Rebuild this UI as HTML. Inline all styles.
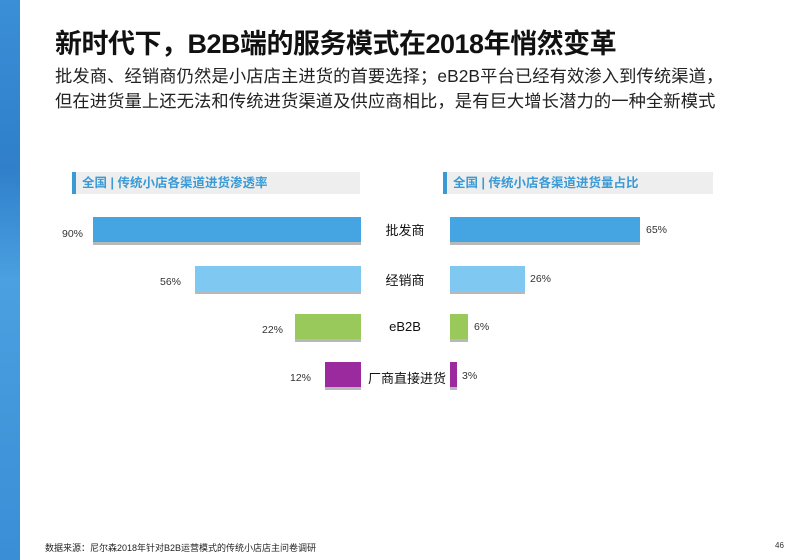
<!DOCTYPE html>
<html><head><meta charset="utf-8"><style>
body{margin:0;width:800px;height:560px;background:#fff;position:relative;overflow:hidden;font-family:"Liberation Sans","Noto Sans CJK SC",sans-serif}
.a{position:absolute}
.strip{left:0;top:0;width:20px;height:560px;background:linear-gradient(180deg,#3a8fd6 0%,#2f7fca 30%,#4aa0e0 50%,#3a8ed6 100%)}
.t{left:55px;top:22px;font-size:27px;font-weight:bold;color:#111;letter-spacing:-0.5px}
.s{left:55px;top:64px;font-size:17.3px;color:#222;line-height:25px;letter-spacing:0.1px}
.h{height:22px;background:#eeeeee;border-left:4px solid #3a9ad6;color:#3a9ad6;font-size:12.5px;font-weight:bold;line-height:22px;padding-left:6px;box-sizing:border-box}
.b{height:25px;box-shadow:0 3px 0 #b8b8b8}
.v{font-size:10.5px;color:#333}
.l{font-size:13px;color:#111;width:90px;text-align:center;left:360px}
</style></head><body>
<div class="a strip"></div>
<div class="a t">新时代下，B2B端的服务模式在2018年悄然变革</div>
<div class="a s">批发商、经销商仍然是小店店主进货的首要选择；eB2B平台已经有效渗入到传统渠道，<br>但在进货量上还无法和传统进货渠道及供应商相比，是有巨大增长潜力的一种全新模式</div>
<div class="a h" style="left:72px;top:172px;width:288px">全国 | 传统小店各渠道进货渗透率</div>
<div class="a h" style="left:443px;top:172px;width:270px">全国 | 传统小店各渠道进货量占比</div>

<div class="a b" style="left:93px;top:217px;width:268px;background:#45a5e3"></div>
<div class="a b" style="left:195px;top:266px;width:166px;background:#7ec8f2"></div>
<div class="a b" style="left:295px;top:314px;width:66px;background:#98c95a"></div>
<div class="a b" style="left:325px;top:362px;width:36px;background:#9b2a9e"></div>

<div class="a b" style="left:450px;top:217px;width:190px;background:#45a5e3"></div>
<div class="a b" style="left:450px;top:266px;width:75px;background:#7ec8f2"></div>
<div class="a b" style="left:450px;top:314px;width:18px;background:#98c95a"></div>
<div class="a b" style="left:450px;top:362px;width:7px;background:#9b2a9e"></div>

<div class="a v" style="left:62px;top:228px">90%</div>
<div class="a v" style="left:160px;top:276px">56%</div>
<div class="a v" style="left:262px;top:324px">22%</div>
<div class="a v" style="left:290px;top:372px">12%</div>
<div class="a v" style="left:646px;top:224px">65%</div>
<div class="a v" style="left:530px;top:273px">26%</div>
<div class="a v" style="left:474px;top:321px">6%</div>
<div class="a v" style="left:462px;top:370px">3%</div>

<div class="a l" style="top:220px">批发商</div>
<div class="a l" style="top:270px">经销商</div>
<div class="a l" style="top:319px">eB2B</div>
<div class="a l" style="top:368px;left:362px">厂商直接进货</div>

<div class="a" style="left:45px;top:541px;font-size:9px;color:#222">数据来源：尼尔森2018年针对B2B运营模式的传统小店店主问卷调研</div>
<div class="a" style="left:775px;top:541px;font-size:8px;color:#333">46</div>
</body></html>
